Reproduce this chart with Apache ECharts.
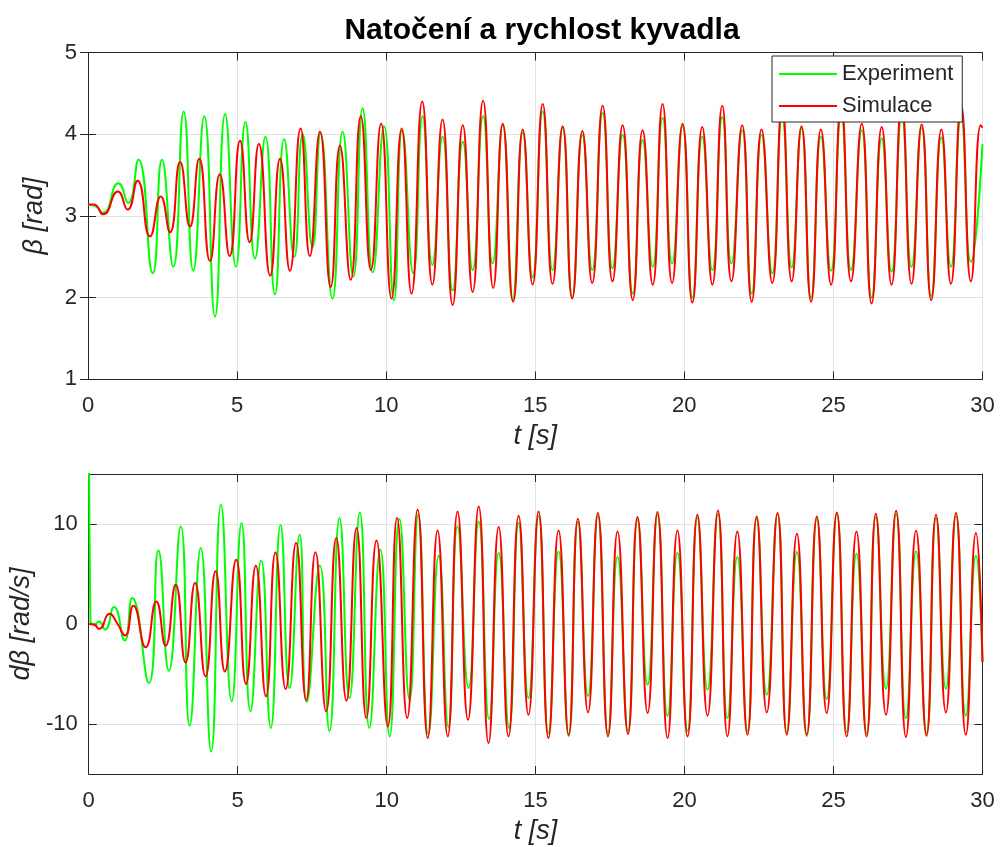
<!DOCTYPE html>
<html>
<head>
<meta charset="utf-8">
<title>Natočení a rychlost kyvadla</title>
<script src="https://cdn.jsdelivr.net/npm/echarts@6/dist/echarts.min.js"></script>
<style>
  html, body { margin: 0; padding: 0; background: #fff; overflow: hidden; }
  #chart { width: 1000px; height: 847px; }
</style>
</head>
<body>
<div id="chart"></div>
<script>
// Turning points [t (s), value] of each recorded signal.
// Angle of the pendulum, beta [rad]
const expAngle = [
  [0, 3.14], [0.25, 3.12], [0.5, 3.04], [1.02, 3.40], [1.35, 3.16], [1.69, 3.69],
  [2.17, 2.30], [2.48, 3.69], [2.86, 2.38], [3.21, 4.28], [3.53, 2.33], [3.90, 4.22],
  [4.26, 1.77], [4.60, 4.25], [4.96, 2.38], [5.28, 4.15], [5.60, 2.48], [5.95, 3.97],
  [6.27, 2.04], [6.58, 3.94], [6.92, 2.50], [7.20, 4.00], [7.53, 2.62], [7.80, 4.01],
  [8.20, 1.99], [8.54, 4.03], [8.90, 2.26], [9.21, 4.32], [9.55, 2.31], [9.93, 4.10],
  [10.26, 1.97], [10.54, 4.05], [10.91, 2.30], [11.22, 4.22], [11.55, 2.40], [11.89, 3.97],
  [12.23, 2.09], [12.57, 3.91], [12.90, 2.34], [13.25, 4.22], [13.57, 2.42], [13.91, 4.11],
  [14.24, 1.97], [14.58, 4.02], [14.91, 2.25], [15.25, 4.28], [15.58, 2.34], [15.92, 4.08],
  [16.24, 2.00], [16.58, 3.99], [16.91, 2.34], [17.26, 4.26], [17.59, 2.36], [17.93, 3.99],
  [18.27, 2.05], [18.60, 3.93], [18.94, 2.38], [19.27, 4.20], [19.59, 2.42], [19.94, 4.10],
  [20.27, 2.00], [20.60, 3.97], [20.94, 2.34], [21.27, 4.21], [21.58, 2.42], [21.94, 4.05],
  [22.26, 2.05], [22.59, 3.99], [22.95, 2.30], [23.28, 4.22], [23.60, 2.37], [23.93, 4.07],
  [24.25, 2.00], [24.58, 3.97], [24.92, 2.33], [25.26, 4.24], [25.59, 2.34], [25.95, 4.05],
  [26.28, 2.00], [26.62, 3.95], [26.95, 2.32], [27.29, 4.22], [27.62, 2.38], [27.96, 4.08],
  [28.28, 2.02], [28.62, 3.96], [28.94, 2.38], [29.28, 4.22], [29.61, 2.44], [30, 3.88]
];
const simAngle = [
  [0, 3.14], [0.2, 3.14], [0.51, 3.02], [1.0, 3.30], [1.33, 3.08], [1.66, 3.43],
  [2.08, 2.75], [2.44, 3.24], [2.75, 2.80], [3.09, 3.66], [3.42, 2.87], [3.73, 3.70],
  [4.09, 2.45], [4.42, 3.51], [4.75, 2.51], [5.10, 3.92], [5.42, 2.68], [5.73, 3.88],
  [6.11, 2.27], [6.44, 3.70], [6.77, 2.33], [7.13, 4.07], [7.44, 2.51], [7.78, 4.03],
  [8.14, 2.13], [8.45, 3.86], [8.81, 2.22], [9.15, 4.22], [9.49, 2.34], [9.83, 4.13],
  [10.18, 1.99], [10.52, 4.07], [10.85, 2.05], [11.21, 4.40], [11.55, 2.16], [11.89, 4.18],
  [12.23, 1.91], [12.57, 4.11], [12.90, 2.07], [13.25, 4.41], [13.59, 2.12], [13.91, 4.13],
  [14.26, 1.95], [14.58, 4.06], [14.91, 2.16], [15.25, 4.37], [15.58, 2.17], [15.92, 4.10],
  [16.24, 1.99], [16.58, 4.04], [16.91, 2.18], [17.26, 4.35], [17.59, 2.20], [17.93, 4.11],
  [18.27, 1.97], [18.60, 4.05], [18.94, 2.16], [19.27, 4.37], [19.59, 2.18], [19.94, 4.13],
  [20.27, 1.94], [20.60, 4.09], [20.94, 2.16], [21.27, 4.35], [21.58, 2.20], [21.94, 4.11],
  [22.26, 1.95], [22.59, 4.06], [22.95, 2.18], [23.28, 4.36], [23.60, 2.20], [23.93, 4.10],
  [24.25, 1.95], [24.58, 4.06], [24.92, 2.16], [25.26, 4.37], [25.59, 2.20], [25.95, 4.13],
  [26.28, 1.93], [26.62, 4.09], [26.95, 2.16], [27.29, 4.38], [27.62, 2.17], [27.96, 4.12],
  [28.28, 1.97], [28.62, 4.06], [28.94, 2.17], [29.28, 4.36], [29.61, 2.20], [29.94, 4.11],
  [30, 4.08]
];
// Angular rate of the pendulum, d beta [rad/s]
const expRate = [
  [0, 30], [0.06, 0.2], [0.2, 0.0], [0.35, 0.26], [0.55, -0.57], [0.85, 1.7],
  [1.21, -1.64], [1.46, 2.6], [2.02, -5.9], [2.34, 7.36], [2.69, -4.67], [3.09, 9.76],
  [3.39, -10.17], [3.76, 7.6], [4.11, -12.74], [4.44, 11.93], [4.80, -7.74], [5.13, 10.1],
  [5.43, -8.74], [5.79, 6.36], [6.11, -10.4], [6.44, 9.9], [6.74, -6.4], [7.08, 8.93],
  [7.32, -7.8], [7.76, 5.83], [8.08, -10.7], [8.42, 10.6], [8.75, -7.4], [9.10, 11.16],
  [9.42, -10.4], [9.79, 7.43], [10.10, -11.24], [10.43, 10.5], [10.77, -7.57], [11.06, 10.93],
  [11.40, -11.0], [11.75, 6.83], [12.07, -10.3], [12.38, 9.76], [12.75, -6.4], [13.09, 10.26],
  [13.44, -9.5], [13.76, 7.1], [14.11, -10.4], [14.43, 10.1], [14.76, -7.4], [15.10, 10.8],
  [15.43, -10.9], [15.77, 7.26], [16.11, -11.2], [16.42, 10.2], [16.76, -7.2], [17.09, 10.8],
  [17.43, -10.9], [17.75, 6.7], [18.10, -10.7], [18.42, 10.4], [18.76, -6.07], [19.09, 10.9],
  [19.43, -9.2], [19.76, 7.1], [20.10, -10.7], [20.43, 10.6], [20.77, -6.57], [21.12, 11.0],
  [21.44, -9.4], [21.77, 6.7], [22.11, -10.7], [22.42, 10.5], [22.76, -7.07], [23.12, 11.0],
  [23.43, -10.8], [23.77, 7.2], [24.10, -11.2], [24.44, 10.5], [24.77, -7.5], [25.11, 11.0],
  [25.44, -10.8], [25.77, 7.03], [26.11, -10.9], [26.42, 10.7], [26.76, -6.47], [27.10, 11.0],
  [27.43, -9.4], [27.77, 7.26], [28.12, -10.9], [28.44, 10.6], [28.77, -6.47], [29.11, 10.8],
  [29.44, -9.17], [29.78, 6.83], [30, -3.8]
];
const simRate = [
  [0, 0], [0.2, -0.1], [0.35, -0.5], [0.70, 1.03], [0.95, 0.1], [1.22, -1.14],
  [1.50, 1.83], [1.91, -2.33], [2.27, 2.26], [2.58, -2.17], [2.92, 3.93], [3.25, -3.84],
  [3.57, 4.10], [3.92, -5.24], [4.26, 5.27], [4.57, -4.74], [4.95, 6.43], [5.28, -6.0],
  [5.61, 5.83], [5.95, -7.24], [6.27, 7.16], [6.61, -6.5], [6.96, 8.1], [7.30, -7.6],
  [7.61, 7.17], [7.97, -8.74], [8.31, 8.6], [8.65, -7.67], [8.99, 9.6], [9.32, -9.4],
  [9.66, 8.36], [10.04, -10.24], [10.35, 10.6], [10.69, -9.4], [11.04, 11.43], [11.38, -11.4],
  [11.71, 9.36], [12.05, -11.24], [12.38, 11.26], [12.73, -9.57], [13.09, 11.76], [13.42, -11.9],
  [13.76, 9.7], [14.09, -11.24], [14.43, 10.83], [14.76, -9.07], [15.10, 11.26], [15.43, -11.4],
  [15.77, 9.36], [16.11, -11.07], [16.42, 10.53], [16.76, -8.84], [17.09, 11.1], [17.43, -11.24],
  [17.75, 9.26], [18.10, -11.0], [18.42, 10.7], [18.76, -8.9], [19.09, 11.2], [19.43, -11.4],
  [19.76, 9.36], [20.10, -11.24], [20.43, 10.93], [20.77, -9.17], [21.12, 11.36], [21.44, -11.24],
  [21.77, 9.26], [22.11, -11.07], [22.42, 10.76], [22.76, -8.84], [23.12, 11.1], [23.43, -11.07],
  [23.77, 9.03], [24.10, -11.07], [24.44, 10.76], [24.77, -8.9], [25.11, 11.16], [25.44, -11.24],
  [25.77, 9.26], [26.11, -11.24], [26.42, 11.03], [26.76, -9.07], [27.10, 11.33], [27.43, -11.3],
  [27.77, 9.33], [28.12, -11.17], [28.44, 10.93], [28.77, -8.84], [29.11, 11.1], [29.44, -11.07],
  [29.78, 9.1], [30, -3.8]
];

const seriesNames = ['Experiment', 'Simulace'];
const titleText = 'Natočení a rychlost kyvadla';
const timeAxisName = 't [s]';
const angleAxisName = 'β [rad]';
const rateAxisName = 'dβ [rad/s]';
const rateTicks = [-10, 0, 10];

const INK = '#262626';
const GRID = '#e2e2e2';
const FONT = 'Liberation Sans';
const GREEN = '#00ff00';
const RED = '#ff0000';

const grids = [
  { left: 88, top: 52.6, width: 894.5, height: 326.8 },
  { left: 88, top: 474, width: 894.5, height: 300 }
];

const nameStyle = { fontFamily: FONT, fontSize: 27, fontStyle: 'italic', color: INK };
const tickFont = { fontFamily: FONT, fontSize: 22, color: INK };

function timeAxis(gridIndex, top) {
  return {
    type: 'value', gridIndex, min: 0, max: 30, interval: 5,
    position: top ? 'top' : 'bottom',
    name: top ? '' : timeAxisName,
    nameLocation: 'middle', nameGap: top ? 0 : 44,
    nameTextStyle: nameStyle,
    axisLine: { show: true, onZero: false, lineStyle: { color: INK, width: 1 } },
    axisTick: { show: true, inside: true, length: 8, lineStyle: { color: INK } },
    axisLabel: Object.assign({ show: !top, margin: 16 }, tickFont),
    splitLine: { show: !top, lineStyle: { color: GRID, width: 1 } }
  };
}

const option = {
  backgroundColor: '#ffffff',
  animation: false,
  title: {
    text: titleText, left: 537, top: 11, textAlign: 'center',
    textStyle: { fontFamily: FONT, fontSize: 30, fontWeight: 'bold', color: '#000' }
  },
  legend: {
    data: seriesNames, orient: 'vertical', left: 772, top: 56,
    itemWidth: 58, itemHeight: 14, itemGap: 10,
    padding: [7, 9, 5, 6],
    backgroundColor: '#fff', borderColor: INK, borderWidth: 1,
    textStyle: { fontFamily: FONT, fontSize: 22, color: INK },
    itemStyle: { opacity: 0 }
  },
  grid: grids,
  xAxis: [timeAxis(0, false), timeAxis(0, true), timeAxis(1, false), timeAxis(1, true)],
  yAxis: [
    {
      type: 'value', gridIndex: 0, min: 1, max: 5, interval: 1, position: 'left',
      name: angleAxisName, nameLocation: 'middle', nameGap: 40,
      nameTextStyle: nameStyle,
      axisLine: { show: true, lineStyle: { color: INK } },
      axisTick: { show: true, inside: true, length: 8, lineStyle: { color: INK } },
      axisLabel: Object.assign({ margin: 11 }, tickFont),
      splitLine: { show: true, lineStyle: { color: GRID } }
    },
    {
      type: 'value', gridIndex: 0, min: 1, max: 5, interval: 1, position: 'right',
      axisLine: { show: true, lineStyle: { color: INK } },
      axisTick: { show: true, inside: true, length: 8, lineStyle: { color: INK } },
      axisLabel: { show: false }, splitLine: { show: false }
    },
    {
      type: 'value', gridIndex: 1, min: -15, max: 15, position: 'left',
      name: rateAxisName, nameLocation: 'middle', nameGap: 44,
      nameTextStyle: nameStyle,
      axisLine: { show: true, onZero: false, lineStyle: { color: INK } },
      axisTick: { show: true, inside: true, length: 8, customValues: rateTicks, lineStyle: { color: INK } },
      axisLabel: Object.assign({ margin: 11, customValues: rateTicks }, tickFont),
      splitLine: { show: true, customValues: rateTicks, lineStyle: { color: GRID } }
    },
    {
      type: 'value', gridIndex: 1, min: -15, max: 15, position: 'right',
      axisLine: { show: true, onZero: false, lineStyle: { color: INK } },
      axisTick: { show: true, inside: true, length: 8, customValues: rateTicks, lineStyle: { color: INK } },
      axisLabel: { show: false }, splitLine: { show: false }
    }
  ],
  series: [
    { name: seriesNames[0], type: 'line', xAxisIndex: 0, yAxisIndex: 0, data: expAngle },
    { name: seriesNames[1], type: 'line', xAxisIndex: 0, yAxisIndex: 0, data: simAngle },
    { name: seriesNames[0], type: 'line', xAxisIndex: 2, yAxisIndex: 2, data: expRate },
    { name: seriesNames[1], type: 'line', xAxisIndex: 2, yAxisIndex: 2, data: simRate }
  ].map(s => Object.assign(s, {
    symbol: 'none', smooth: 0.55, clip: true,
    color: s.name === seriesNames[0] ? GREEN : RED,
    lineStyle: { width: 2, color: s.name === seriesNames[0] ? GREEN : RED }
  }))
};

const chart = echarts.init(document.getElementById('chart'));
chart.setOption(option);
</script>
</body>
</html>
